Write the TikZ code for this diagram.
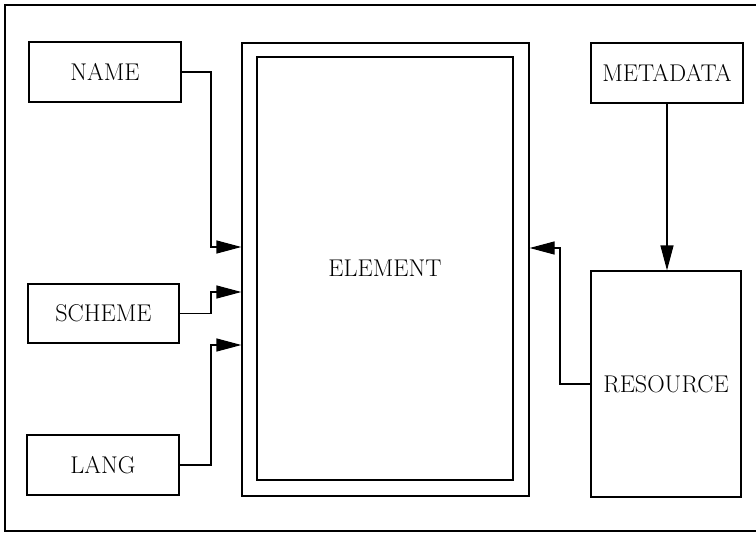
\documentclass[tikz,border=0pt]{standalone}
\usepackage{fontspec}
\usetikzlibrary{arrows.meta,calc}
\begin{document}
\begin{tikzpicture}[x=1pt,y=-1pt,
  box/.style={draw, line width=1.2pt, inner sep=0pt, font=\fontsize{24.2}{28}\selectfont},
  arr/.style={line width=1.2pt, -{Triangle[length=25pt,width=13pt]}},
  conn/.style={line width=1.2pt}]
\useasboundingbox (0,0) rectangle (756,533);
\draw[conn] (756,5) -- (5,5) -- (5,531) -- (756,531);
\node[box, minimum width=152pt, minimum height=60pt] (name) at (105,72) {NAME};
\node[box, minimum width=151pt, minimum height=59pt] (scheme) at (103.5,313.5) {SCHEME};
\node[box, minimum width=152pt, minimum height=60pt] (lang) at (103,465) {LANG};
\node[box, minimum width=287pt, minimum height=453pt] (elem) at (385.5,269.5) {};
\node[box, minimum width=256pt, minimum height=423pt] (elemin) at (385,268.5) {ELEMENT};
\node[box, minimum width=152pt, minimum height=60pt] (meta) at (667,73) {METADATA};
\node[box, minimum width=150pt, minimum height=226pt] (res) at (666,384) {RESOURCE};
\coordinate (busl) at (211,0);
\coordinate (busr) at (560,0);
\draw[arr] (name.east) -- (name.east -| busl) |- ($(elem.west)+(0,-22.5)$);
\draw[arr] (scheme.east) -- (scheme.east -| busl) |- ($(elem.west)+(0,22.5)$);
\draw[arr] (lang.east) -- (lang.east -| busl) |- ($(elem.west)+(0,75.5)$);
\draw[arr] (res.west) -- (res.west -| busr) |- ($(elem.east)+(0,-21.5)$);
\draw[arr] (meta.south) -- (meta.south |- res.north);
\end{tikzpicture}
\end{document}
